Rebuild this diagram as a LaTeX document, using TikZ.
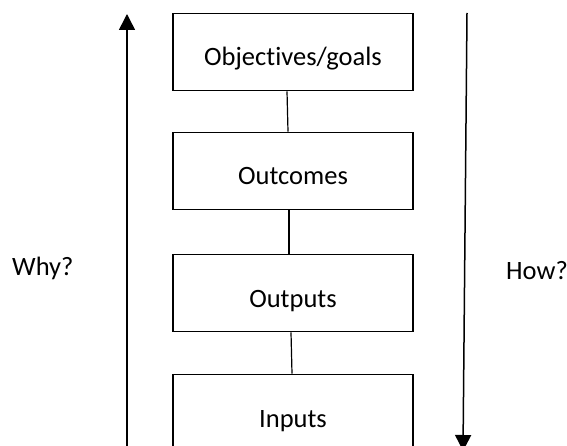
\documentclass[tikz,border=0pt]{standalone}
\usepackage{fontspec}
\setmainfont{Carlito}[Ligatures=NoCommon]
\usetikzlibrary{arrows.meta,positioning}

\begin{document}
\begin{tikzpicture}[
  x=1pt,y=-1pt,
  font=\fontsize{26.5}{30}\selectfont,
  bx/.style ={draw,line width=1.7pt,minimum width=240pt,minimum height=77pt,inner sep=0pt,
              text height=28pt,text depth=0pt,fill=white},
  ln/.style ={line width=1.2pt},
  ar/.style ={-{Triangle[length=16pt,width=16pt]},line width=1.5pt},
  lb/.style ={inner sep=0pt,anchor=base west}
]
\clip (0,0) rectangle (567,446);
\useasboundingbox (0,0) rectangle (567,446);

% ======== boxes
\node[bx] (goals)    at (293,52)  {Objectives/goals};
\node[bx] (outcomes) at (293,171) {Outcomes};
\node[bx] (outputs)  at (293,293) {Outputs};
\node[bx] (inputs)   at (293,413) {Inputs};

% ======== links
\draw[ln] ([xshift=-6pt]goals.south)    -- ([xshift=-5pt]outcomes.north);
\draw[ln] ([xshift=-4pt]outcomes.south) -- ([xshift=-4pt]outputs.north);
\draw[ln] ([xshift=-2pt]outputs.south)  -- ([xshift=-1pt]inputs.north);

% ======== side arrows
\coordinate (whyb) at (127,447);
\coordinate (whyt) at (127,14);
\coordinate (howt) at (467,13);
\coordinate (howb) at (463,451);
\draw[ar] (whyb) -- (whyt);
\draw[ar] (howt) -- (howb);

\node[lb] (why) at (12,276)  {Why?};
\node[lb] (how) at (506,279) {How?};
\end{tikzpicture}
\end{document}
